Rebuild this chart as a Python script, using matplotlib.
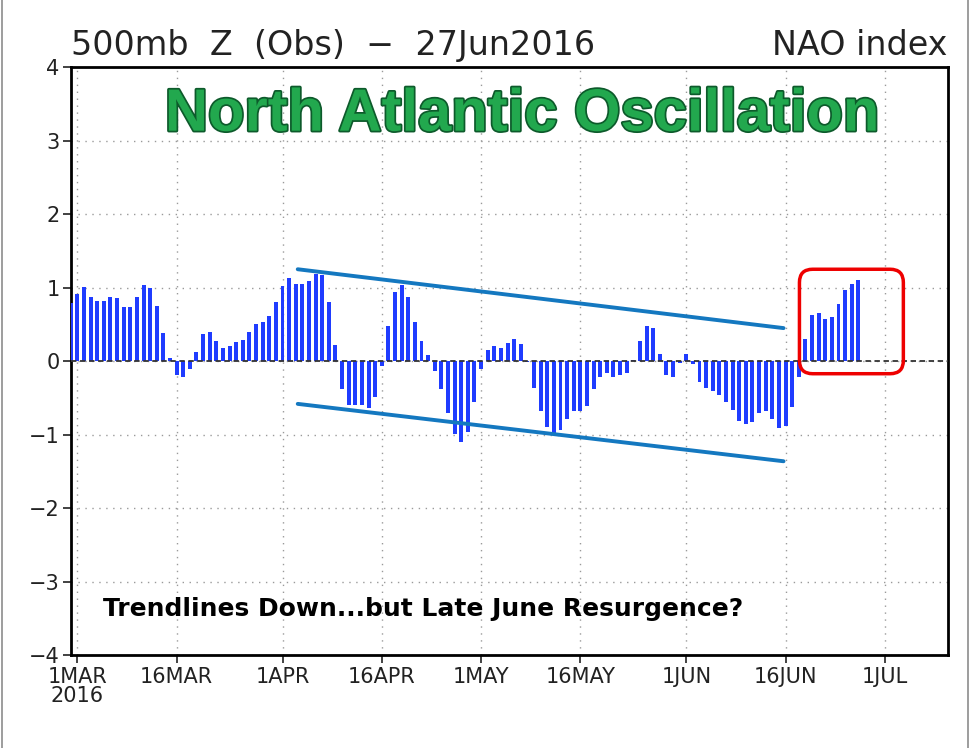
#!/usr/bin/env python3
"""NAO index chart (500mb Z obs, Mar-Jun 2016) with trend channel and late-June box."""

from datetime import datetime, timedelta

import matplotlib
matplotlib.use("Agg")
import matplotlib.pyplot as plt
import matplotlib.dates as mdates
import matplotlib.patheffects as pe
from matplotlib.lines import Line2D
from matplotlib.patches import FancyBboxPatch

# ---------------------------------------------------------------- data

START = datetime(2016, 2, 29)
NAO = [
    0.79,
    0.92, 1.01, 0.87, 0.82, 0.82, 0.87, 0.86, 0.74, 0.74, 0.87,
    1.04, 1.00, 0.75, 0.39, 0.04, -0.19, -0.22, -0.11, 0.13, 0.37,
    0.40, 0.27, 0.18, 0.20, 0.26, 0.29, 0.40, 0.50, 0.53, 0.62,
    0.80, 1.02, 1.13, 1.05, 1.05, 1.09, 1.19, 1.17, 0.81, 0.22,
    -0.38, -0.59, -0.59, -0.59, -0.63, -0.49, -0.07, 0.48, 0.94, 1.04,
    0.87, 0.53, 0.28, 0.08, -0.13, -0.38, -0.71, -0.99, -1.10, -0.96,
    -0.56, -0.11, 0.15, 0.20, 0.18, 0.25, 0.30, 0.23, -0.01, -0.36,
    -0.68, -0.90, -1.00, -0.94, -0.78, -0.68, -0.68, -0.61, -0.38, -0.21,
    -0.16, -0.21, -0.19, -0.16, 0.01, 0.28, 0.48, 0.45, 0.10, -0.19,
    -0.21, -0.02, 0.10, -0.04, -0.28, -0.36, -0.41, -0.46, -0.55, -0.66,
    -0.81, -0.86, -0.83, -0.70, -0.68, -0.79, -0.91, -0.88, -0.62, -0.21,
    0.30, 0.63, 0.66, 0.58, 0.60, 0.78, 0.97, 1.05, 1.10,
]

TICK_DATES = [datetime(2016, m, d) for m, d in
              [(3, 1), (3, 16), (4, 1), (4, 16), (5, 1), (5, 16),
               (6, 1), (6, 16), (7, 1)]]
TICK_LABELS = ["1MAR\n2016", "16MAR", "1APR", "16APR", "1MAY", "16MAY",
               "1JUN", "16JUN", "1JUL"]

# trend channel endpoints: (days after 1 Mar, NAO value)
UPPER_TREND = [(33.3, 1.25), (106.7, 0.45)]
LOWER_TREND = [(33.3, -0.58), (106.7, -1.36)]
BOX = (109.1, -0.17, 124.8, 1.25)  # x0, y0, x1, y1

BAR, TREND, BOXC, GREEN = "#1f3cff", "#1478c0", "#ee0000", "#22a84e"
MAR1 = datetime(2016, 3, 1)


def day(d):
    return mdates.date2num(MAR1 + timedelta(days=d))


def main():
    fig = plt.figure(figsize=(9.74, 7.48), dpi=100, facecolor="white")
    ax = fig.add_axes([0.0726, 0.1237, 0.9004, 0.7868])

    dates = [START + timedelta(days=i) for i in range(len(NAO))]
    ax.bar(mdates.date2num(dates), NAO, width=0.6, color=BAR, zorder=3)
    ax.axhline(0, color="#333333", lw=1.3, ls=(0, (3, 2)), zorder=4)

    ax.set_xlim(day(-1.0), day(131.5))
    ax.set_ylim(-4, 4)
    ax.set_yticks(range(-4, 5))
    ax.set_yticklabels([str(v).replace("-", "\u2212") for v in range(-4, 5)])
    ax.set_xticks(mdates.date2num(TICK_DATES))
    ax.set_xticklabels(TICK_LABELS, linespacing=0.95)
    ax.tick_params(labelsize=15, direction="out", length=6, width=1.2,
                   colors="#222222", pad=2)
    ax.grid(color="#9a9a9a", lw=1.0, ls=(0, (1, 4)), zorder=0)
    for spine in ax.spines.values():
        spine.set_linewidth(2)
        spine.set_color("black")

    for pts in (UPPER_TREND, LOWER_TREND):
        ax.plot([day(p[0]) for p in pts], [p[1] for p in pts],
                color=TREND, lw=2.8, solid_capstyle="round", zorder=5)

    x0, y0, x1, y1 = BOX
    aspect = 6.62 / 73.6  # px per day / px per index unit
    ax.add_patch(FancyBboxPatch(
        (day(x0), y0), day(x1) - day(x0), y1 - y0,
        boxstyle="round,pad=0,rounding_size=2.0", mutation_aspect=aspect,
        fill=False, ec=BOXC, lw=2.5, zorder=6))

    ax.text(0.0, 1.008, "500mb  Z  (Obs)  \u2212  27Jun2016", transform=ax.transAxes,
            fontsize=24, ha="left", va="bottom", color="#222222")
    ax.text(1.0, 1.008, "NAO index", transform=ax.transAxes,
            fontsize=24, ha="right", va="bottom", color="#222222")

    ax.text(0.515, 0.918, "North Atlantic Oscillation", transform=ax.transAxes,
            fontsize=43, fontweight="bold", family="Liberation Sans",
            ha="center", va="center", color=GREEN, zorder=7,
            path_effects=[pe.withStroke(linewidth=2.5, foreground="#0d5a2b")])
    ax.text(0.037, 0.079, "Trendlines Down...but Late June Resurgence?",
            transform=ax.transAxes, fontsize=18, fontweight="bold",
            family="DejaVu Sans", ha="left", va="center", color="black",
            zorder=7)

    for x in (0.002, 0.994):
        fig.add_artist(Line2D([x, x], [0, 1], transform=fig.transFigure,
                              color="#8c8c8c", lw=1.2))

    fig.savefig("out.png", dpi=100, facecolor="white")
    plt.close(fig)


if __name__ == "__main__":
    main()
